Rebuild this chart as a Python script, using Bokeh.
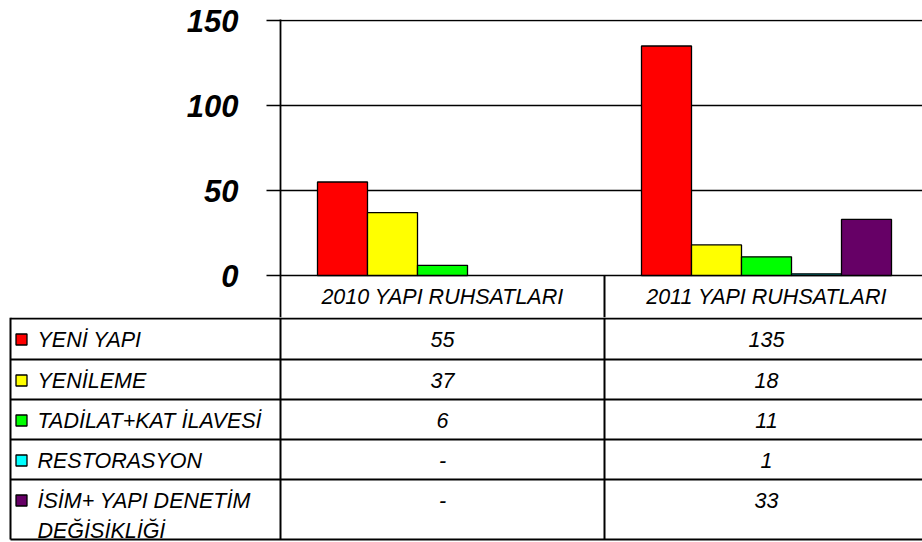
from bokeh.plotting import figure
from bokeh.models import Range1d, FixedTicker
from bokeh.embed import file_html
from bokeh.resources import INLINE
from bokeh.core.properties import value

# ---- data ----
categories = ["2010 YAPI RUHSATLARI", "2011 YAPI RUHSATLARI"]
series_names = ["YENİ YAPI", "YENİLEME", "TADİLAT+KAT İLAVESİ", "RESTORASYON",
                "İSİM+ YAPI DENETİM\nDEĞİSİKLİĞİ"]
series_colors = ["#FF0000", "#FFFF00", "#00FF00", "#00FFFF", "#660066"]
values_2010 = [55, 37, 6, None, None]
values_2011 = [135, 18, 11, 1, 33]
y_ticks = [0, 50, 100, 150]

values_by_cat = [values_2010, values_2011]

# ---- layout constants ----
FONT = "Liberation Sans"
TXT = "21.5px"
W = 922
AXIS_X = 280
CAT_W = 324
FRAME_W = W - AXIS_X
PX_PER_UNIT = 1.7
TOP = 19
Y_MAX = 150.6
CAT_ROW = 42
Y_MIN = -CAT_ROW / PX_PER_UNIT
FRAME_H = round((Y_MAX - Y_MIN) * PX_PER_UNIT)
BAR_W = 50 / CAT_W
n_series = len(series_names)

p = figure(width=W, height=TOP + FRAME_H,
           x_range=Range1d(0, FRAME_W / CAT_W), y_range=Range1d(Y_MIN, Y_MAX),
           output_backend="svg", toolbar_location=None,
           min_border_left=AXIS_X, min_border_right=0, min_border_top=TOP,
           min_border_bottom=0, x_axis_location=None)
p.outline_line_color = None
p.background_fill_color = "white"
p.border_fill_color = "white"

ax = p.yaxis[0]
ax.ticker = FixedTicker(ticks=y_ticks)
ax.major_label_text_font = FONT
ax.major_label_text_font_size = "31px"
ax.major_label_text_font_style = "bold italic"
ax.major_label_text_color = "black"
ax.major_tick_out = 14
ax.major_tick_in = 0
ax.minor_tick_out = 0
ax.minor_tick_in = 0
ax.major_tick_line_color = "black"
ax.major_tick_line_width = 1.5
ax.axis_line_color = "black"
ax.axis_line_width = 1.8
ax.major_label_standoff = 28

p.xgrid.visible = False
p.ygrid.ticker = FixedTicker(ticks=y_ticks)
p.ygrid.grid_line_color = "black"
p.ygrid.grid_line_width = 1.3
p.ygrid.grid_line_alpha = 1.0

for si in range(n_series):
    xs, tops = [], []
    for ci, vals in enumerate(values_by_cat):
        v = vals[si]
        if v is not None:
            xs.append(ci + 0.5 + (si - (n_series - 1) / 2) * BAR_W)
            tops.append(v)
    p.vbar(x=xs, top=tops, bottom=0, width=BAR_W,
           fill_color=series_colors[si], line_color="black", line_width=1.3)

# category row
p.segment(x0=[1], y0=[0], x1=[1], y1=[Y_MIN], line_color="black", line_width=2)
p.text(x=[ci + 0.5 for ci in range(len(categories))], y=[Y_MIN / 2] * len(categories),
       text=categories, text_align="center", text_baseline="middle",
       text_font=value(FONT), text_font_style="italic", text_font_size=TXT,
       text_color="black")

# ---- data table ----
H2 = 224
rows = [1, 42, 82, 122, 162, 222]
t = figure(width=W, height=H2, x_range=Range1d(0, W), y_range=Range1d(H2, 0),
           output_backend="svg", toolbar_location=None,
           min_border_left=0, min_border_right=0, min_border_top=0, min_border_bottom=0,
           x_axis_location=None, y_axis_location=None)
t.outline_line_color = None
t.xgrid.visible = False
t.ygrid.visible = False

t.segment(x0=[10] * len(rows), y0=rows, x1=[W] * len(rows), y1=rows,
          line_color="black", line_width=2)
vx = [10, AXIS_X, AXIS_X + CAT_W]
t.segment(x0=vx, y0=[0] * 3, x1=vx, y1=[rows[-1]] * 3, line_color="black", line_width=2)

for si in range(n_series):
    yc = rows[si] + 21
    t.rect(x=[21], y=[yc], width=11, height=11, fill_color=series_colors[si],
           line_color="black", line_width=1.3)
    lines = series_names[si].split("\n")
    t.text(x=[37] * len(lines), y=[yc + 30 * k for k in range(len(lines))], text=lines,
           text_align="left", text_baseline="middle", text_font=value(FONT),
           text_font_style="italic", text_font_size=TXT, text_color="black")
    for ci, vals in enumerate(values_by_cat):
        v = vals[si]
        t.text(x=[AXIS_X + CAT_W * (ci + 0.5)], y=[yc], text=[str(v) if v is not None else "-"],
               text_align="center", text_baseline="middle", text_font=value(FONT),
               text_font_style="italic", text_font_size=TXT, text_color="black")

open("out.html", "w").write(file_html([p, t], INLINE))
